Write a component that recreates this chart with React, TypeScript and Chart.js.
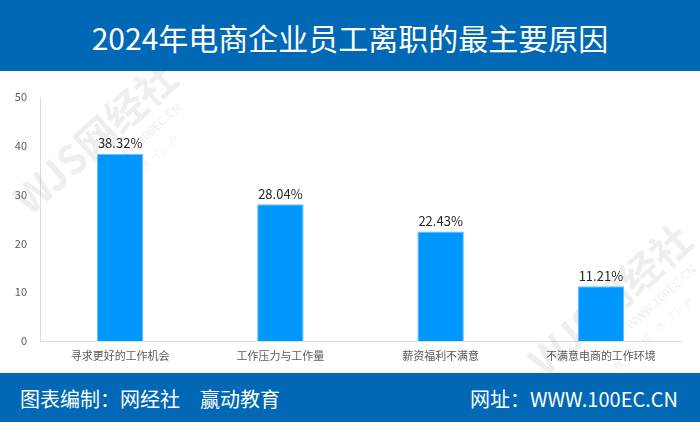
import React, { useEffect, useRef } from "react";
import { Chart, registerables } from "chart.js";

Chart.register(...registerables);

const titleText = "2024年电商企业员工离职的最主要原因";
const footerLeft = "图表编制：网经社　赢动教育";
const footerRight = "网址：WWW.100EC.CN";

const categories = ["寻求更好的工作机会", "工作压力与工作量", "薪资福利不满意", "不满意电商的工作环境"];
const shares = [38.32, 28.04, 22.43, 11.21];
const yMin = 0;
const yMax = 50;
const yStep = 10;

const CJK = '"Noto Sans CJK SC", "Noto Sans", sans-serif';
const BLUE_BAR = "#0068B5";
const CANVAS_TOP = 71;

const labelPlugin = {
  id: "barLabels",
  afterDatasetsDraw(chart: any) {
    const ctx = chart.ctx;
    const meta = chart.getDatasetMeta(0);
    ctx.save();
    ctx.font = `13px ${CJK}`;
    ctx.fillStyle = "#262626";
    ctx.textAlign = "center";
    ctx.textBaseline = "bottom";
    meta.data.forEach((bar: any, i: number) => {
      ctx.fillText(shares[i].toFixed(2) + "%", bar.x, bar.y - 4);
    });
    ctx.restore();
  },
};

const watermarkPlugin = {
  id: "watermark",
  beforeDatasetsDraw(chart: any) {
    const ctx = chart.ctx;
    const marks = [
      { x: 95, y: 138 },
      { x: 610, y: 300 },
    ];
    ctx.save();
    marks.forEach((m) => {
      ctx.save();
      ctx.translate(m.x, m.y - CANVAS_TOP);
      ctx.rotate((-42 * Math.PI) / 180);
      ctx.fillStyle = "rgba(120,120,120,0.13)";
      ctx.textAlign = "center";
      ctx.textBaseline = "middle";
      ctx.font = `bold 40px ${CJK}`;
      ctx.fillText("WJS网经社", 0, 0);
      ctx.font = `12px ${CJK}`;
      ctx.fillText("WWW.100EC.CN", 40, 32);
      ctx.font = `10px ${CJK}`;
      ctx.fillText("数    字    经    济    门    户", 10, 54);
      ctx.restore();
    });
    ctx.restore();
  },
};

export default function App() {
  const ref = useRef<HTMLCanvasElement | null>(null);

  useEffect(() => {
    if (!ref.current) return;
    const chart = new Chart(ref.current, {
      type: "bar",
      data: {
        labels: categories,
        datasets: [
          {
            data: shares,
            backgroundColor: "#0098FE",
            borderColor: "#6DBDFA",
            borderWidth: 1,
            barPercentage: 0.29,
            categoryPercentage: 1,
          },
        ],
      },
      options: {
        animation: false,
        responsive: true,
        maintainAspectRatio: false,
        layout: { padding: { top: 26, right: 19, left: 0, bottom: 0 } },
        plugins: {
          legend: { display: false },
          tooltip: { enabled: false },
          title: { display: false },
        },
        scales: {
          x: {
            grid: { display: false, drawTicks: false },
            border: { display: true, color: "#D6DDEE", width: 1 },
            ticks: {
              font: { family: CJK, size: 11 },
              color: "#595959",
              padding: 8,
              maxRotation: 0,
              autoSkip: false,
            },
            afterFit(scale: any) {
              scale.height = 32;
            },
          },
          y: {
            min: yMin,
            max: yMax,
            grid: { display: false, drawTicks: false },
            border: { display: true, color: "#D6DDEE", width: 1 },
            ticks: {
              stepSize: yStep,
              font: { family: CJK, size: 11 },
              color: "#595959",
              padding: 13,
            },
            afterFit(scale: any) {
              scale.width = 40;
            },
          },
        },
      },
      plugins: [watermarkPlugin, labelPlugin],
    });
    return () => chart.destroy();
  }, []);

  return (
    <div
      style={{
        position: "fixed",
        top: 0,
        left: 0,
        width: 700,
        height: 422,
        background: "#ffffff",
        overflow: "hidden",
        fontFamily: CJK,
      }}
    >
      <div
        style={{
          position: "absolute",
          top: 0,
          left: 0,
          width: 700,
          height: CANVAS_TOP,
          background: BLUE_BAR,
          color: "#ffffff",
          fontSize: 30,
          lineHeight: "74px",
          textAlign: "center",
          whiteSpace: "nowrap",
        }}
      >
        {titleText}
      </div>
      <div style={{ position: "absolute", top: CANVAS_TOP, left: 0, width: 700, height: 302 }}>
        <canvas ref={ref} />
      </div>
      <div
        style={{
          position: "absolute",
          top: 373,
          left: 0,
          width: 700,
          height: 49,
          background: BLUE_BAR,
          color: "#ffffff",
          fontSize: 20,
          lineHeight: "52px",
          whiteSpace: "nowrap",
        }}
      >
        <span style={{ position: "absolute", left: 20 }}>{footerLeft}</span>
        <span style={{ position: "absolute", right: 22 }}>{footerRight}</span>
      </div>
    </div>
  );
}
